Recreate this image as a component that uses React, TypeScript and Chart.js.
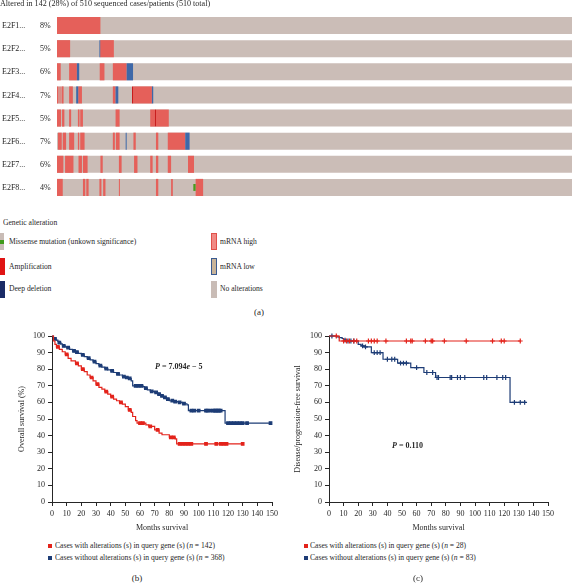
import React, { useEffect, useRef } from 'react';
import { Chart, registerables } from 'chart.js';

Chart.register(...registerables);

const FONT = '"Liberation Serif", "DejaVu Serif", serif';
const INK = '#262626';

// ---------- Panel (a): oncoprint ----------
const genes = ['E2F1...', 'E2F2...', 'E2F3...', 'E2F4...', 'E2F5...', 'E2F6...', 'E2F7...', 'E2F8...'];
const alteredPct = ['8%', '5%', '6%', '7%', '5%', '7%', '6%', '4%'];
const totalCases = 510;
// [row, first case, last case] (cases sorted as in the oncoprint)
const mrnaHighSegs: number[][] = [
  [0, 0, 43],
  [1, 0, 13], [1, 42.7, 56.3],
  [2, 0, 3.7], [2, 12, 19.7], [2, 42.3, 47], [2, 55.3, 69],
  [3, 0, 1.5], [3, 2.5, 3.5], [3, 4.5, 6.5], [3, 12, 15.7], [3, 21, 24.7], [3, 55.3, 58], [3, 75.3, 94],
  [4, 0, 4], [4, 5, 7.3], [4, 12, 14], [4, 20.7, 22.3], [4, 23, 25.7], [4, 58, 62], [4, 92.3, 97], [4, 98, 110.7],
  [5, 1, 4.7], [5, 5.7, 9], [5, 12, 17], [5, 20.7, 22], [5, 23, 27.3], [5, 55.3, 57.3], [5, 58.3, 62], [5, 75.7, 78], [5, 98, 100.3], [5, 109.7, 127],
  [6, 0, 6.3], [6, 8, 16.3], [6, 21.3, 24.7], [6, 25.7, 30.3], [6, 43, 45.3], [6, 61.3, 64], [6, 76.3, 79.7], [6, 92.3, 94.7], [6, 98, 100.3], [6, 109.7, 113], [6, 129.7, 135.7],
  [7, 0, 5.7], [7, 25.7, 28], [7, 29, 31.3], [7, 42, 44], [7, 45.7, 48], [7, 61.3, 62.3], [7, 98, 100.3], [7, 113, 114.7], [7, 137.3, 144.7],
];
const mrnaLowSegs: number[][] = [
  [1, 42, 42.8],
  [2, 19.7, 22], [2, 69, 75.3],
  [3, 19, 21], [3, 58, 60.7], [3, 94, 95.3],
  [5, 68, 69], [5, 127, 131.3],
];
const amplificationSegs: number[][] = [
  [3, 74.3, 75.3],
  [4, 97, 98],
];
const missenseSegs: number[][] = [
  [7, 135, 137.3],
];

// ---------- Panel (b): overall survival ----------
// [months, survival %]
const osAlteredSteps: number[][] = [
  [0, 100], [1, 97], [2, 95], [3, 93.5], [5, 92], [7, 90.5], [9, 89], [11, 86.5], [13, 85], [16, 83.5],
  [18, 82], [20, 80], [22, 78.5], [24, 76.5], [26, 75], [28, 73], [30, 71], [32, 69], [34, 68], [36, 66.5],
  [38, 65], [40, 63.5], [42, 62], [44, 61], [46, 60], [48, 59], [50, 57.5], [52, 55.5], [54, 54], [55, 51.5],
  [57, 49], [58, 47.5], [64, 46.5], [66, 45.5], [70, 43.5], [73, 41.5], [75, 40.5], [80, 39], [84, 38], [85, 35],
  [130, 35],
];
const osAlteredCensored: number[][] = [
  [4, 93.5], [10, 89], [17, 83.5], [21, 80], [27, 75], [31, 71], [37, 66.5], [41, 63.5], [47, 60], [53, 55.5],
  [60, 47.5], [62, 47.5], [67, 45.5], [72, 43.5], [81, 39], [83, 39], [87, 35], [89, 35], [91, 35], [93, 35],
  [95, 35], [105, 35], [112, 35], [115, 35], [117, 35], [119, 35], [130, 35],
];
const osUnalteredSteps: number[][] = [
  [0, 100], [1, 99], [2, 98.2], [3, 97.5], [4, 96.8], [5, 96], [6, 95.3], [7, 94.6], [8, 94], [9, 93.4],
  [10, 93], [12, 92], [14, 91], [16, 90.3], [18, 89.5], [20, 88.7], [22, 87.6], [24, 86.6], [26, 85.6], [28, 84.5],
  [30, 83.4], [32, 82.2], [34, 81.2], [36, 80.4], [38, 79.6], [40, 79], [42, 78], [44, 77.2], [46, 76.5], [48, 75.6],
  [50, 75], [52, 74.4], [54, 73], [55, 70], [62, 69.5], [63, 68.6], [65, 67.6], [67, 66.6], [70, 66], [72, 65],
  [74, 64], [76, 63], [78, 62], [80, 61], [83, 60.5], [86, 60], [89, 59.2], [92, 58.5], [93, 55], [117, 55],
  [118, 47.5], [149, 47.5],
];
const osUnalteredCensored: number[][] = [
  [2, 98.2], [5, 96], [8, 94], [11, 93], [15, 91], [17, 90.3], [21, 88.7], [25, 86.6], [29, 84.5], [33, 82.2],
  [37, 80.4], [41, 79], [45, 77.2], [49, 75.6], [51, 75], [53, 74.4], [57, 70], [59, 70], [61, 70], [64, 68.6],
  [68, 66.6], [71, 66], [73, 65], [75, 64], [77, 63], [79, 62], [82, 61], [84, 60.5], [87, 60], [90, 59.2],
  [95, 55], [97, 55], [100, 55], [105, 55], [106, 55], [108, 55], [110, 55], [111, 55], [112, 55], [113, 55],
  [114, 55], [115, 55], [120, 47.5], [122, 47.5], [124, 47.5], [126, 47.5], [128, 47.5], [130, 47.5], [133, 47.5], [149, 47.5],
];

// ---------- Panel (c): disease/progression-free survival ----------
const dfsAlteredSteps: number[][] = [
  [0, 100], [7, 97], [131, 97],
];
const dfsAlteredCensored: number[][] = [
  [5, 100], [10, 97], [12, 97], [14, 97], [17, 97], [19, 97], [27, 97], [29, 97], [31, 97], [33, 97],
  [39, 97], [53, 97], [56, 97], [57, 97], [66, 97], [70, 97], [71, 97], [79, 97], [94, 97], [112, 97],
  [118, 97], [120, 97], [131, 97],
];
const dfsUnalteredSteps: number[][] = [
  [0, 100], [5, 99.5], [7, 99], [9, 98.5], [10, 97.5], [12, 97], [20, 95], [22, 94], [24, 93.5], [29, 90],
  [37, 86], [47, 83.7], [56, 81], [65, 78], [73, 75], [124, 60], [135, 60],
];
const dfsUnalteredCensored: number[][] = [
  [2, 100], [11, 97.5], [13, 97], [15, 97], [17, 97], [23, 94], [25, 93.5], [31, 90], [33, 90], [35, 90],
  [40, 86], [43, 86], [45, 86], [49, 83.7], [51, 83.7], [53, 83.7], [60, 81], [67, 78], [71, 78], [74, 75],
  [75, 75], [83, 75], [84, 75], [88, 75], [90, 75], [93, 75], [106, 75], [108, 75], [115, 75], [119, 75],
  [121, 75], [127, 60], [131, 60], [134, 60],
];

const RED = '#e3231b';
const NAVY = '#1d3c76';

const toXY = (arr: number[][]) => arr.map(([x, y]) => ({ x, y }));

function Oncoprint() {
  const ref = useRef<HTMLCanvasElement>(null);
  useEffect(() => {
    const seg = (segs: number[][]) => segs.map(([r, s, e]) => ({ y: genes[r], x: [s, e] }));
    const rowLabels = {
      id: 'rowLabels',
      afterDraw(chart: any) {
        const { ctx } = chart;
        const ys = chart.scales.y;
        ctx.save();
        ctx.font = `8px ${FONT}`;
        ctx.fillStyle = INK;
        ctx.textBaseline = 'middle';
        ctx.textAlign = 'left';
        genes.forEach((g, i) => {
          const py = ys.getPixelForValue(i);
          ctx.fillText(g, 2, py + 0.5);
          ctx.fillText(alteredPct[i], 40, py + 0.5);
        });
        ctx.restore();
      },
    };
    const common = { categoryPercentage: 1, barPercentage: 0.74, borderWidth: 0, borderSkipped: false, inflateAmount: 0 };
    const chart = new Chart(ref.current!, {
      type: 'bar',
      data: {
        labels: genes,
        datasets: [
          { label: 'Missense mutation', data: seg(missenseSegs) as any, backgroundColor: '#4a9a1e', ...common, barPercentage: 0.3, order: 0 },
          { label: 'Amplification', data: seg(amplificationSegs) as any, backgroundColor: '#c81818', ...common, order: 1 },
          { label: 'mRNA low', data: seg(mrnaLowSegs) as any, backgroundColor: '#3e68a8', ...common, order: 2 },
          { label: 'mRNA high', data: seg(mrnaHighSegs) as any, backgroundColor: '#e5605a', ...common, order: 3 },
          { label: 'No alterations', data: genes.map((g) => ({ y: g, x: [0, totalCases] })) as any, backgroundColor: '#cbbdb7', ...common, order: 4 },
        ],
      },
      options: {
        indexAxis: 'y',
        responsive: false,
        animation: false,
        layout: { padding: { left: 57, right: 1, top: 14, bottom: 1 } },
        scales: {
          x: { type: 'linear', min: 0, max: totalCases, display: false },
          y: { type: 'category', display: false },
        },
        datasets: { bar: { grouped: false } } as any,
        plugins: { legend: { display: false }, tooltip: { enabled: false } },
      },
      plugins: [rowLabels],
    } as any);
    return () => chart.destroy();
  }, []);
  return <canvas ref={ref} width={573} height={200} style={{ position: 'absolute', left: 0, top: 0 }} />;
}

interface KMProps {
  left: number;
  width: number;
  yTitle: string;
  yWidth: number;
  yTitlePad: number;
  padRight: number;
  altered: number[][];
  alteredCens: number[][];
  unaltered: number[][];
  unalteredCens: number[][];
  marker: string;
  markerRadius: number;
}

function KMChart(p: KMProps) {
  const ref = useRef<HTMLCanvasElement>(null);
  useEffect(() => {
    const tickFont = { family: FONT, size: 8 };
    const chart = new Chart(ref.current!, {
      type: 'line',
      data: {
        datasets: [
          {
            label: 'altered', data: toXY(p.altered), borderColor: RED, borderWidth: 1.2, pointRadius: 0,
            stepped: true, fill: false, clip: false,
          },
          {
            label: 'altered censored', data: toXY(p.alteredCens), showLine: false, pointStyle: p.marker,
            pointRadius: p.markerRadius, backgroundColor: RED, borderColor: RED, pointBorderWidth: 1.2, clip: false,
          },
          {
            label: 'unaltered', data: toXY(p.unaltered), borderColor: NAVY, borderWidth: 1.2, pointRadius: 0,
            stepped: true, fill: false, clip: false,
          },
          {
            label: 'unaltered censored', data: toXY(p.unalteredCens), showLine: false, pointStyle: p.marker,
            pointRadius: p.markerRadius, backgroundColor: NAVY, borderColor: NAVY, pointBorderWidth: 1.2, clip: false,
          },
        ],
      },
      options: {
        responsive: false,
        animation: false,
        layout: { padding: { top: 10, right: p.padRight, left: 0, bottom: 0 } },
        scales: {
          x: {
            type: 'linear', min: 0, max: 150,
            ticks: { stepSize: 10, autoSkip: false, maxRotation: 0, font: tickFont, color: INK, padding: 3 },
            grid: { display: true, drawOnChartArea: false, drawTicks: true, tickLength: 4, color: INK },
            border: { display: true, color: INK, width: 1 },
            title: { display: true, text: 'Months survival', font: tickFont, color: INK, padding: { top: 0, bottom: 3 } },
            afterFit: (s: any) => { s.height = 34; },
          },
          y: {
            type: 'linear', min: 0, max: 100,
            ticks: { stepSize: 10, font: tickFont, color: INK, padding: 3 },
            grid: { display: true, drawOnChartArea: false, drawTicks: true, tickLength: 4, color: INK },
            border: { display: true, color: INK, width: 1 },
            title: { display: true, text: p.yTitle, font: tickFont, color: INK, padding: { top: p.yTitlePad, bottom: 0 } },
            afterFit: (s: any) => { s.width = p.yWidth; },
          },
        },
        plugins: { legend: { display: false }, tooltip: { enabled: false } },
      },
    } as any);
    return () => chart.destroy();
  }, []);
  return <canvas ref={ref} width={p.width} height={210} style={{ position: 'absolute', left: p.left, top: 326 }} />;
}

const Txt = ({ x, y, size = 7.6, center = false, bold = false, children }: any) => (
  <div
    style={{
      position: 'absolute', left: x, top: y - size * 0.6, fontSize: size, lineHeight: `${size * 1.2}px`,
      fontFamily: FONT, color: INK, whiteSpace: 'nowrap', fontWeight: bold ? 'bold' : 'normal',
      transform: center ? 'translateX(-50%)' : undefined, opacity: 0.99,
    }}
  >
    {children}
  </div>
);

const Box = ({ x, y, w, h, bg, border }: any) => (
  <div style={{ position: 'absolute', left: x, top: y, width: w, height: h, background: bg, border, boxSizing: 'border-box' }} />
);

export default function App() {
  return (
    <div style={{ position: 'fixed', left: 0, top: 0, width: 573, height: 584, background: '#fff', overflow: 'hidden' }}>
      <Oncoprint />
      <Txt x={0} y={3.5} size={8.1}>Altered in 142 (28%) of 510 sequenced cases/patients (510 total)</Txt>

      <Txt x={3} y={223}>Genetic alteration</Txt>
      <Box x={-1} y={233} w={5} h={17} bg="#c9bcb6" />
      <Box x={-1} y={240} w={5} h={4} bg="#3f9a1a" />
      <Txt x={9} y={242}>Missense mutation (unkown significance)</Txt>
      <Box x={-1} y={258} w={6} h={17} bg="#e01414" />
      <Txt x={9} y={266.5}>Amplification</Txt>
      <Box x={-1} y={281} w={6} h={17} bg="#1a2b66" />
      <Txt x={9} y={288.5}>Deep deletion</Txt>

      <Box x={211} y={233} w={6} h={17} bg="#f08a85" border="1px solid #e0504a" />
      <Txt x={220} y={242}>mRNA high</Txt>
      <Box x={211} y={258} w={6} h={17} bg="#c8b49a" border="1.5px solid #3a5a90" />
      <Txt x={220} y={266.5}>mRNA low</Txt>
      <Box x={211} y={281} w={6} h={17} bg="#c9bcb6" />
      <Txt x={220} y={288.5}>No alterations</Txt>
      <Txt x={259} y={312} size={9} center>(a)</Txt>

      <KMChart
        left={0} width={285} yTitle="Overall survival (%)" yWidth={52} yTitlePad={17} padRight={13}
        altered={osAlteredSteps} alteredCens={osAlteredCensored}
        unaltered={osUnalteredSteps} unalteredCens={osUnalteredCensored}
        marker="rect" markerRadius={1.8}
      />
      <KMChart
        left={285} width={288} yTitle="Disease/progression-free survival" yWidth={44} yTitlePad={8} padRight={25}
        altered={dfsAlteredSteps} alteredCens={dfsAlteredCensored}
        unaltered={dfsUnalteredSteps} unalteredCens={dfsUnalteredCensored}
        marker="cross" markerRadius={2.4}
      />

      <Txt x={155} y={367} size={8} bold><i>P</i> = 7.094<i>e</i> − 5</Txt>
      <Txt x={392} y={446} size={8} bold><i>P</i> = 0.110</Txt>

      <Box x={48} y={544} w={4} h={4} bg={RED} />
      <Txt x={55} y={546}>Cases with alterations (s) in query gene (s) (<i>n</i> = 142)</Txt>
      <Box x={48} y={556} w={4} h={4} bg={NAVY} />
      <Txt x={55} y={558}>Cases without alterations (s) in query gene (s) (<i>n</i> = 368)</Txt>
      <Txt x={137} y={578} size={9} center>(b)</Txt>

      <Box x={304} y={544} w={4} h={4} bg={RED} />
      <Txt x={310} y={546}>Cases with alterations (s) in query gene (s) (<i>n</i> = 28)</Txt>
      <Box x={304} y={556} w={4} h={4} bg={NAVY} />
      <Txt x={310} y={558}>Cases without alterations (s) in query gene (s) (<i>n</i> = 83)</Txt>
      <Txt x={418} y={578} size={9} center>(c)</Txt>
    </div>
  );
}
